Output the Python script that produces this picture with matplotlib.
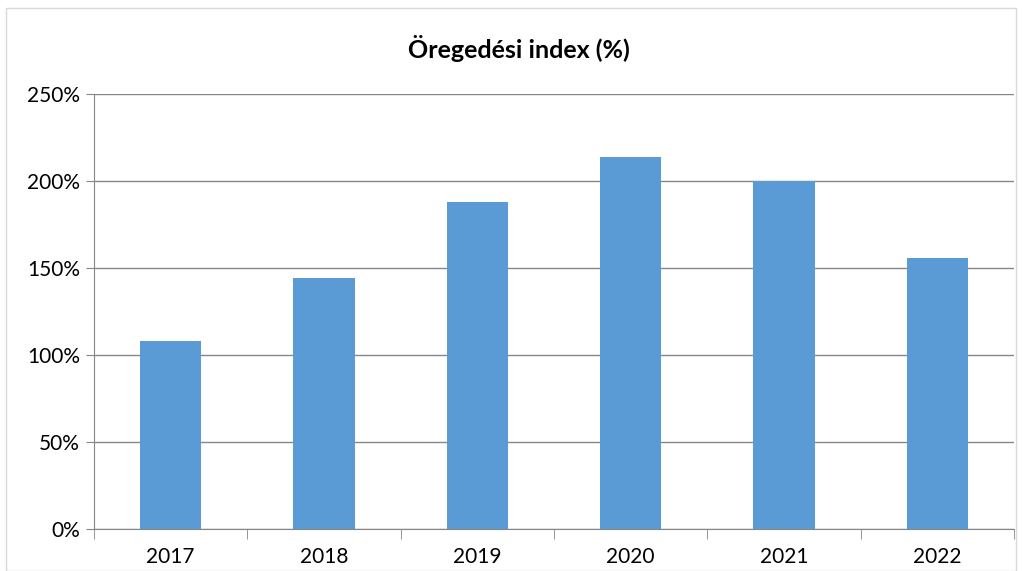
import matplotlib.pyplot as plt
from matplotlib.ticker import PercentFormatter, FixedLocator
from matplotlib.patches import Rectangle

years = ['2017', '2018', '2019', '2020', '2021', '2022']
index_values = [108, 144, 188, 214, 200, 156]

fig = plt.figure(figsize=(10.22, 5.71), dpi=100)
plt.rcParams['font.family'] = ['Lato', 'DejaVu Sans']

# keret a diagram körül
fig.patches.append(Rectangle((6 / 1022, 0), 1 - 12 / 1022, 1 - 8 / 571,
                             transform=fig.transFigure, fill=False,
                             edgecolor='#d9d9d9', linewidth=1))

ax = fig.add_axes([94 / 1022, 42 / 571, (1014 - 94) / 1022, (529 - 94) / 571])

x = range(len(years))
ax.bar(x, index_values, width=0.4, color='#5b9bd5', zorder=3)

ax.set_xlim(-0.5, len(years) - 0.5)
ax.set_ylim(0, 250)
ax.set_yticks(range(0, 251, 50))
ax.yaxis.set_major_formatter(PercentFormatter(decimals=0))
ax.set_xticks(list(x))
ax.set_xticklabels(years)
ax.xaxis.set_minor_locator(FixedLocator([i - 0.5 for i in range(len(years) + 1)]))

ax.grid(axis='y', color='#868686', linewidth=1, zorder=0)
for s in ['top', 'right']:
    ax.spines[s].set_visible(False)
ax.spines['left'].set_color('#868686')
ax.spines['bottom'].set_color('#868686')

ax.tick_params(axis='y', length=6, color='#868686', labelsize=15, pad=4)
ax.tick_params(axis='x', which='major', length=0, labelsize=15, pad=13)
ax.tick_params(axis='x', which='minor', length=7, color='#868686')

fig.text(519 / 1022, 1 - 48 / 571, 'Öregedési index (%)', fontsize=18,
         fontweight='bold', ha='center', va='center')

fig.savefig('out.png', dpi=100)
